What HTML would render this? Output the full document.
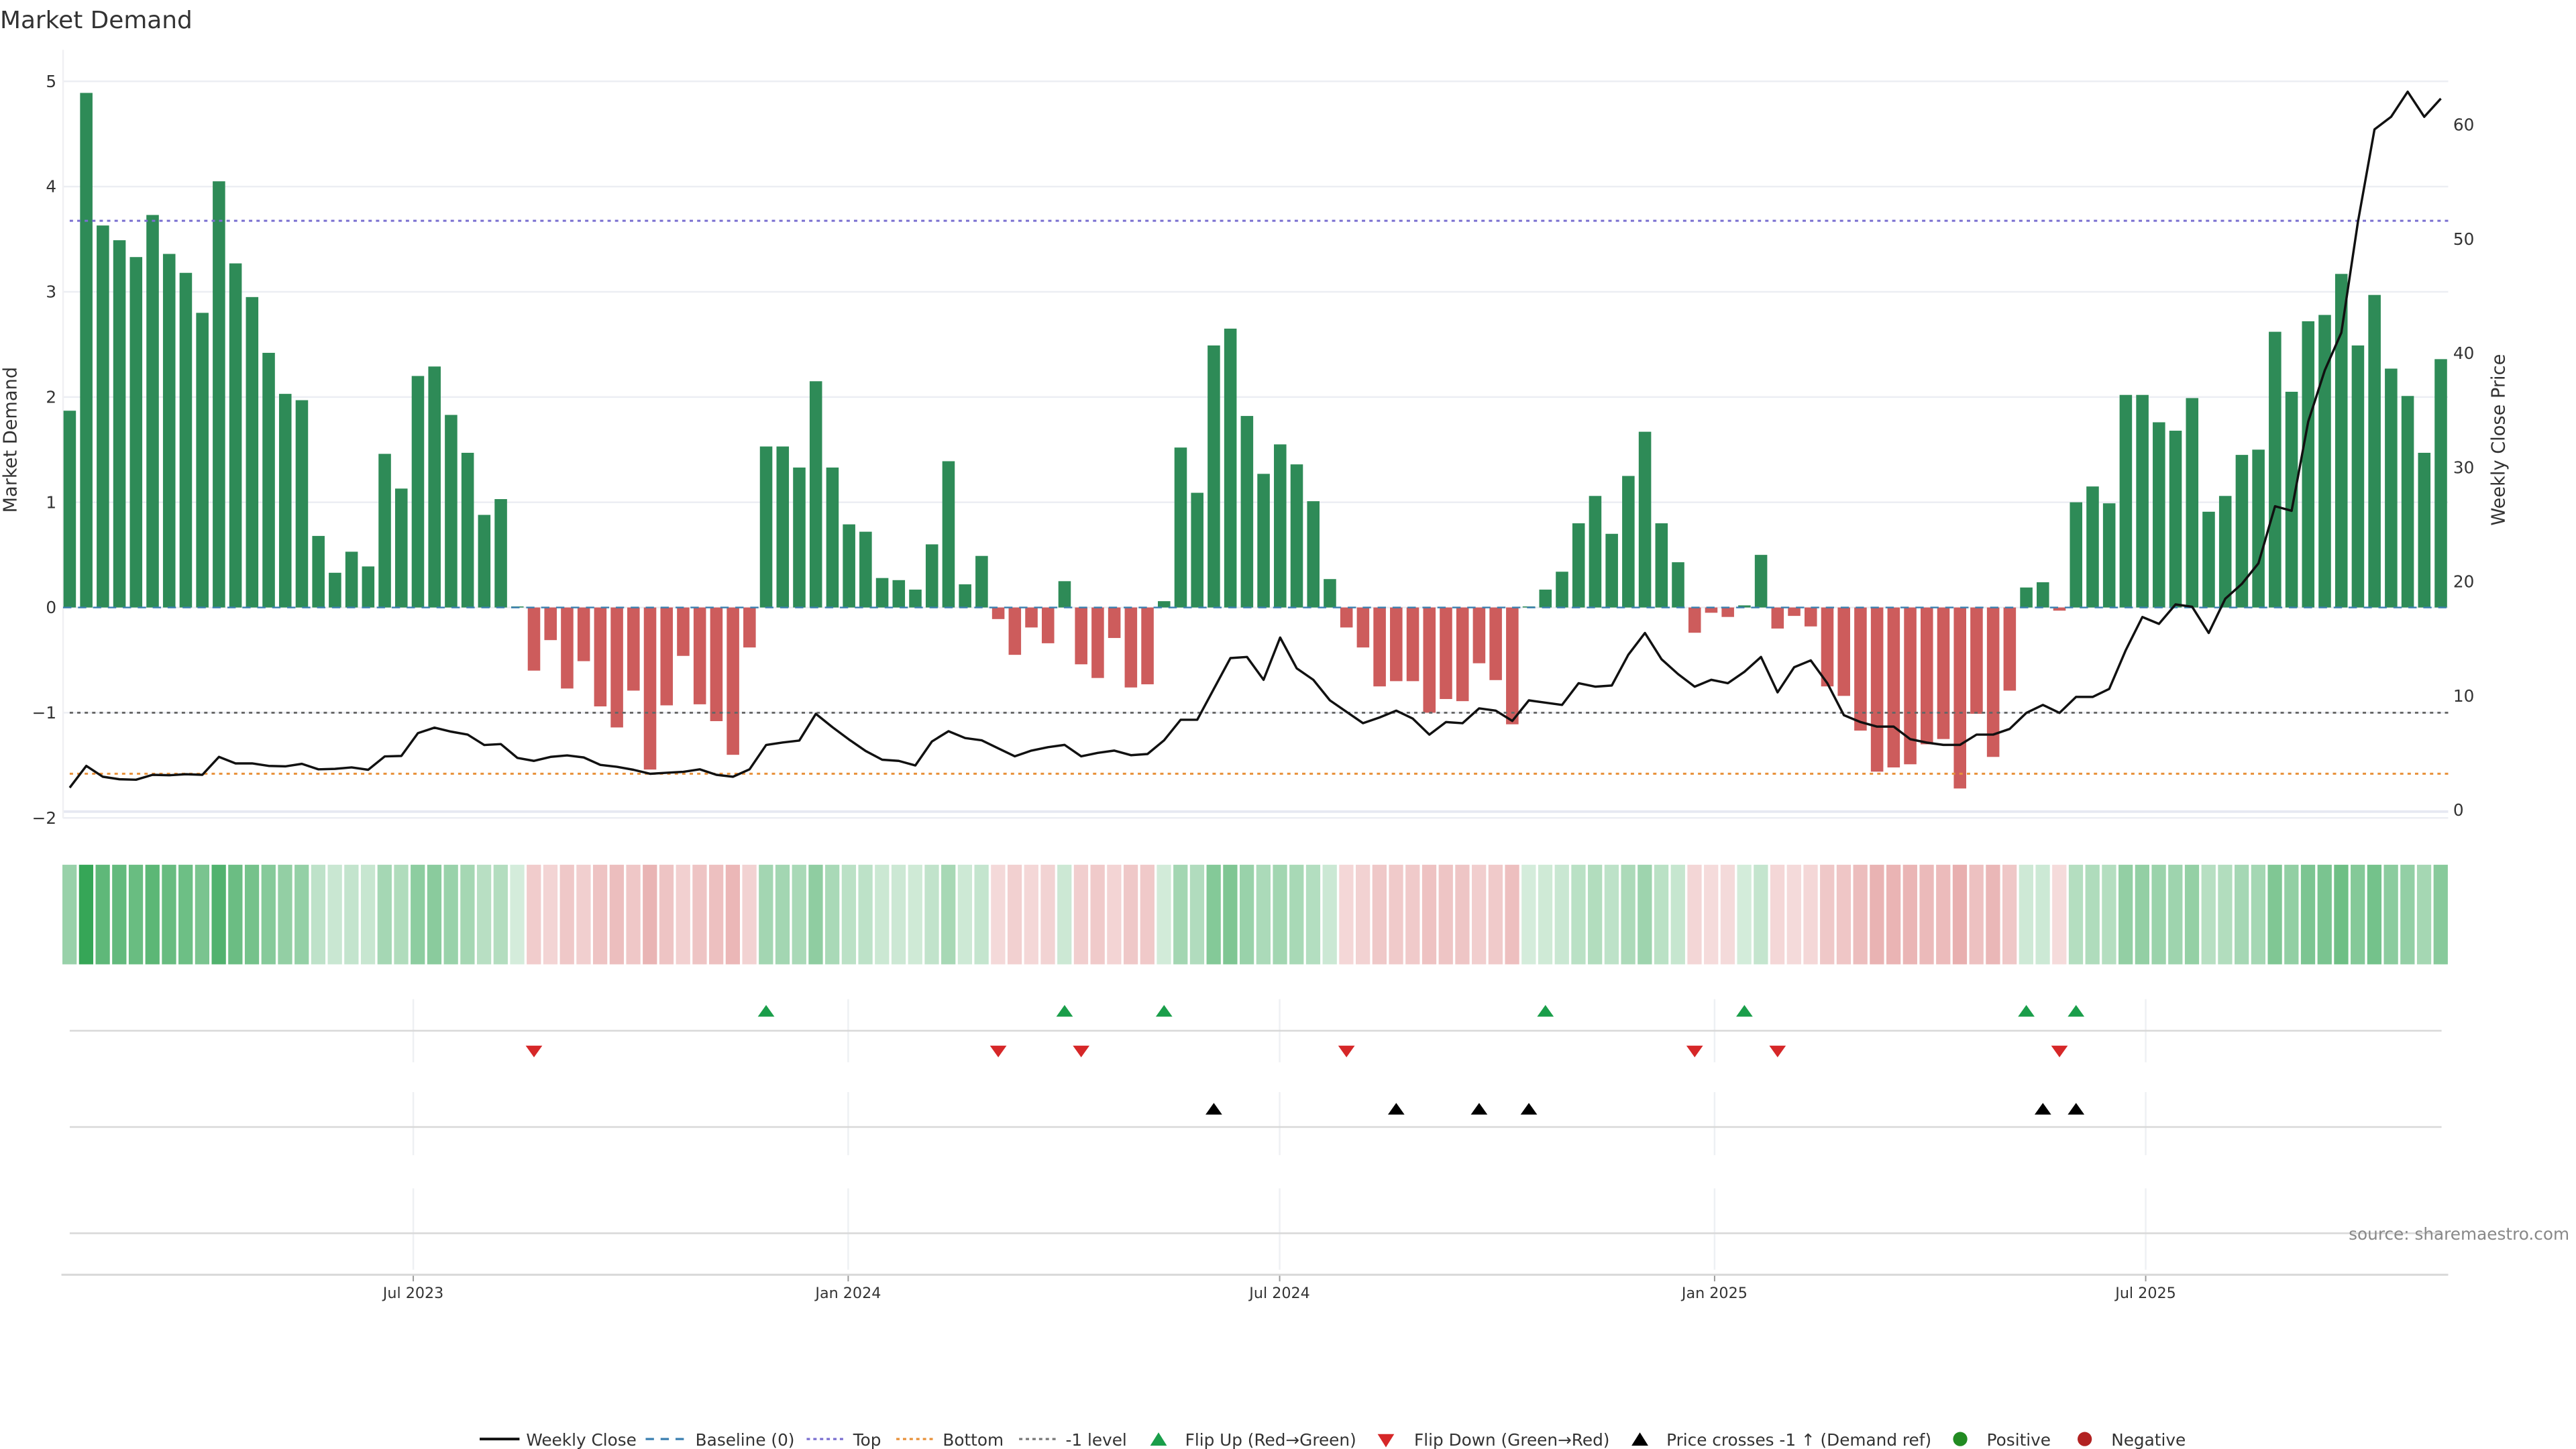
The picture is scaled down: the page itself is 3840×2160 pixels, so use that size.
<!DOCTYPE html>
<html><head><meta charset="utf-8"><style>
html,body{margin:0;padding:0;background:#fff}
svg{display:block;font-family:"DejaVu Sans","Liberation Sans",sans-serif}
</style></head><body>
<svg id="chart" xmlns="http://www.w3.org/2000/svg" width="3840" height="2160" viewBox="0 0 1552 873">
<text x="0" y="17" font-size="14.5" fill="#333">Market Demand</text>
<g id="main"></g>
</svg>
<script>
const demand=[1.87,4.89,3.63,3.49,3.33,3.73,3.36,3.18,2.80,4.05,3.27,2.95,2.42,2.03,1.97,0.68,0.33,0.53,0.39,1.46,1.13,2.20,2.29,1.83,1.47,0.88,1.03,0.01,-0.60,-0.31,-0.77,-0.51,-0.94,-1.14,-0.79,-1.54,-0.93,-0.46,-0.92,-1.08,-1.40,-0.38,1.53,1.53,1.33,2.15,1.33,0.79,0.72,0.28,0.26,0.17,0.60,1.39,0.22,0.49,-0.11,-0.45,-0.19,-0.34,0.25,-0.54,-0.67,-0.29,-0.76,-0.73,0.06,1.52,1.09,2.49,2.65,1.82,1.27,1.55,1.36,1.01,0.27,-0.19,-0.38,-0.75,-0.70,-0.70,-1.00,-0.87,-0.89,-0.53,-0.69,-1.11,0.01,0.17,0.34,0.80,1.06,0.70,1.25,1.67,0.80,0.43,-0.24,-0.05,-0.09,0.02,0.50,-0.20,-0.08,-0.18,-0.75,-0.84,-1.17,-1.56,-1.52,-1.49,-1.30,-1.25,-1.72,-1.01,-1.42,-0.79,0.19,0.24,-0.03,1.00,1.15,0.99,2.02,2.02,1.76,1.68,1.99,0.91,1.06,1.45,1.50,2.62,2.05,2.72,2.78,3.17,2.49,2.97,2.27,2.01,1.47,2.36];
const price=[1.95,3.86,2.91,2.69,2.65,3.08,3.04,3.13,3.08,4.65,4.08,4.08,3.86,3.82,4.04,3.56,3.60,3.73,3.52,4.69,4.73,6.73,7.21,6.86,6.60,5.69,5.77,4.56,4.30,4.65,4.78,4.60,3.95,3.78,3.52,3.17,3.26,3.34,3.56,3.08,2.91,3.56,5.69,5.91,6.08,8.42,7.25,6.17,5.17,4.4,4.3,3.9,6.0,6.9,6.3,6.1,5.4,4.7,5.2,5.5,5.7,4.7,5.0,5.2,4.8,4.9,6.1,7.9,7.9,10.6,13.3,13.4,11.4,15.1,12.4,11.4,9.6,8.6,7.6,8.1,8.7,8.0,6.6,7.7,7.6,8.9,8.7,7.8,9.6,9.4,9.2,11.1,10.8,10.9,13.6,15.5,13.2,11.9,10.8,11.4,11.1,12.1,13.4,10.3,12.5,13.1,11.1,8.3,7.7,7.3,7.3,6.2,5.9,5.7,5.7,6.6,6.6,7.1,8.5,9.2,8.5,9.9,9.9,10.6,14.0,16.9,16.3,18.0,17.8,15.5,18.5,19.8,21.6,26.6,26.2,34.0,38.5,41.8,51.5,59.6,60.7,62.9,60.7,62.3];
const flipUpWeeks=[43,61,67,90,102,119,122];
const flipDownWeeks=[29,57,62,78,99,104,121];
const crossWeeks=[70,81,86,89,120,122];
const leftTicks=[5,4,3,2,1,0,-1,-2];
const rightTicks=[0,10,20,30,40,50,60];
const dateLabels=["Jul 2023","Jan 2024","Jul 2024","Jan 2025","Jul 2025"];
const dateWeeks=[21.72,47.95,73.97,100.2,126.2];
const levels=[3.675,-1.58,-1];

const NS="http://www.w3.org/2000/svg";
const g=document.getElementById('main');
function el(tag,attrs,parent){const e=document.createElementNS(NS,tag);for(const k in attrs)e.setAttribute(k,attrs[k]);(parent||g).appendChild(e);return e;}
const xW=k=>42+9.99*(k-1);
const yL=v=>366-63.4*v;
const yR=v=>488-6.88*v;
const L=38,R=1475;

// gridlines
leftTicks.forEach(t=>{
  const ln=el('line',{x1:L,x2:R,y1:yL(t),y2:yL(t),stroke:'#eceef3','stroke-width':1});
  
  
  const tx=el('text',{x:34,y:yL(t)+3.5,'font-size':10,'text-anchor':'end',fill:'#333'});
  tx.textContent=t<0?'\u2212'+Math.abs(t):String(t);
  
  
});
el('line',{x1:L,x2:R,y1:489,y2:489,stroke:'#e6e8f2','stroke-width':1.5});
el('line',{x1:L,x2:L,y1:30,y2:493,stroke:'#f0f0f3','stroke-width':1});
rightTicks.forEach(t=>{
  const tx=el('text',{x:1478,y:yR(t)+3.5,'font-size':10,fill:'#333'});
  tx.textContent=String(t);
  
  
});
let t1=el('text',{transform:'translate(10,265) rotate(-90)','font-size':11,'text-anchor':'middle',fill:'#333'});
t1.textContent='Market Demand';


let t2=el('text',{transform:'translate(1509,265) rotate(-90)','font-size':11,'text-anchor':'middle',fill:'#333'});
t2.textContent='Weekly Close Price';



// bars
demand.forEach((v,i)=>{
  const x=xW(i+1);
  const y0=yL(0),y1=yL(v);
  const b=el('rect',{x:x-3.75,y:Math.min(y0,y1),width:7.5,height:Math.max(0.6,Math.abs(y1-y0)),fill:v>=0?'#2e8b57':'#cd5c5c'});
  
  
});
// baseline
let bl=el('line',{x1:L,x2:R,y1:yL(0),y2:yL(0),stroke:'#3a7fb0','stroke-width':1,'stroke-dasharray':'5,4'});


const lvColors=['#7a6fd0','#e8913a','#666'];
const lvNames=['top-level-line','bottom-level-line','minus-one-level-line'];
levels.forEach((v,i)=>{
  const ln=el('line',{x1:42,x2:R,y1:yL(v),y2:yL(v),stroke:lvColors[i],'stroke-width':1.2,'stroke-dasharray':'2,2.5'});
  
  
});
// price line
const pts=price.map((p,i)=>xW(i+1).toFixed(2)+','+yR(p).toFixed(2)).join(' ');
const pl=el('polyline',{points:pts,fill:'none',stroke:'#111','stroke-width':1.4,'stroke-linejoin':'round'});



// heatmap strip
demand.forEach((v,i)=>{
  const t=Math.min(1,0.2+0.75*Math.abs(v)/5);
  let c;
  if(v>=0){c=[255-t*(255-40),255-t*(255-160),255-t*(255-75)];}
  else{c=[255-t*(255-205),255-t*(255-80),255-t*(255-80)];}
  const r=el('rect',{x:xW(i+1)-4.4,y:521,width:8.6,height:60,fill:'rgb('+c.map(Math.round).join(',')+')'});
  
  
});

// lower panels
dateWeeks.forEach((w,i)=>{
  const x=xW(w);
  [[602,640],[658,696],[716,765]].forEach(s=>{
    const v=el('line',{x1:x,x2:x,y1:s[0],y2:s[1],stroke:'#eef0f3','stroke-width':1});
    
    
  });
  el('line',{x1:x,x2:x,y1:768,y2:772,stroke:'#999','stroke-width':0.8});
  const tx=el('text',{x:x,y:782,'font-size':9,'text-anchor':'middle',fill:'#333'});
  tx.textContent=dateLabels[i];
  
  
});
[621,679,743].forEach(y=>{el('line',{x1:42,x2:1471,y1:y,y2:y,stroke:'#d8d8d8','stroke-width':1});});
el('line',{x1:37,x2:1475,y1:768,y2:768,stroke:'#d8d8d8','stroke-width':1.2});
flipUpWeeks.forEach(w=>{const x=xW(w);
  const p=el('polygon',{points:`${x-5},${612.5} ${x+5},${612.5} ${x},${605.5}`,fill:'#1a9e4a'});
  
  });
flipDownWeeks.forEach(w=>{const x=xW(w);
  const p=el('polygon',{points:`${x-5},${630} ${x+5},${630} ${x},${637}`,fill:'#d62728'});
  
  });
crossWeeks.forEach(w=>{const x=xW(w);
  const p=el('polygon',{points:`${x-5},${671.5} ${x+5},${671.5} ${x},${664.5}`,fill:'#000'});
  
  });
let src=el('text',{x:1548,y:747,'font-size':10,'text-anchor':'end',fill:'#888'});
src.textContent='source: sharemaestro.com';



// legend
const lg=el('g',{});


function lt(x,s){const t=el('text',{x:x,y:871,'font-size':10,fill:'#333'},lg);t.textContent=s;}
el('line',{x1:289,x2:313,y1:867,y2:867,stroke:'#111','stroke-width':1.6},lg);lt(317,'Weekly Close');
el('line',{x1:389,x2:414,y1:867,y2:867,stroke:'#3a7fb0','stroke-width':1.3,'stroke-dasharray':'5,4'},lg);lt(419,'Baseline (0)');
el('line',{x1:486,x2:510,y1:867,y2:867,stroke:'#7a6fd0','stroke-width':1.3,'stroke-dasharray':'2,2'},lg);lt(514,'Top');
el('line',{x1:540,x2:564,y1:867,y2:867,stroke:'#e8913a','stroke-width':1.3,'stroke-dasharray':'2,2'},lg);lt(568,'Bottom');
el('line',{x1:614,x2:638,y1:867,y2:867,stroke:'#777','stroke-width':1.3,'stroke-dasharray':'2,2'},lg);lt(642,'-1 level');
el('polygon',{points:'693,871 703,871 698,863',fill:'#1a9e4a'},lg);lt(714,'Flip Up (Red\u2192Green)');
el('polygon',{points:'830,864 840,864 835,872',fill:'#d62728'},lg);lt(852,'Flip Down (Green\u2192Red)');
el('polygon',{points:'983,871 993,871 988,863',fill:'#000'},lg);lt(1004,'Price crosses -1 \u2191 (Demand ref)');
el('circle',{cx:1181,cy:867,r:4.3,fill:'#228b22'},lg);lt(1197,'Positive');
el('circle',{cx:1256,cy:867,r:4.3,fill:'#b22222'},lg);lt(1272,'Negative');
</script>
</body></html>
